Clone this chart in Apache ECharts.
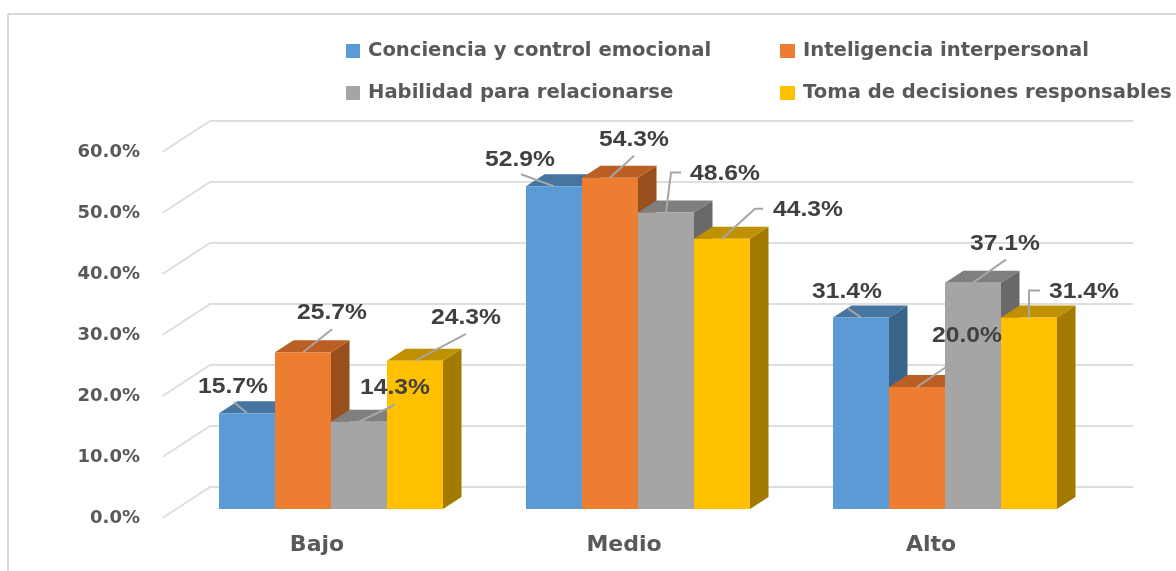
<!DOCTYPE html>
<html>
<head>
<meta charset="utf-8">
<title>Niveles</title>
<style>
html,body{margin:0;padding:0;background:#fff;}
#main{width:1176px;height:571px;}
</style>
<script src="https://cdn.jsdelivr.net/npm/echarts@6/dist/echarts.min.js"></script>
</head>
<body>
<div id="main"></div>
<script>
var categorias = ['Bajo', 'Medio', 'Alto'];
var conciencia = [15.7, 52.9, 31.4];
var inteligencia = [25.7, 54.3, 20.0];
var habilidad = [14.3, 48.6, 37.1];
var decisiones = [24.3, 44.3, 31.4];
var marcas = [0, 10, 20, 30, 40, 50, 60];

var nombres = ['Conciencia y control emocional', 'Inteligencia interpersonal', 'Habilidad para relacionarse', 'Toma de decisiones responsables'];
var valores = [conciencia, inteligencia, habilidad, decisiones];

// colores: frente, tapa, lado
var colores = [
    ['#5B9BD5', '#4575A0', '#3A6389'],
    ['#ED7D31', '#BB5F24', '#97501E'],
    ['#A5A5A5', '#7F7F7F', '#696969'],
    ['#FFC000', '#BF9000', '#A37A00']
];

// desplazamiento de cada etiqueta respecto a su barra: [dx texto, dy texto, linea guia...]
var guias = [
    [[-14, -26, [[-13, -11]]], [29, -39, [[29, -23]]], [36, -34, [[36, -17]]], [51, -43, [[51, -27]]]],
    [[-34, -26, [[-33, -12]]], [24, -38, [[24, -22]]], [59, -39, [[5, -40], [15, -40]]], [86, -29, [[33, -30], [41, -30]]]],
    [[-14, -26, [[-13, -9]]], [50, -51, [[29, -20]]], [32, -39, [[33, -23]]], [55, -26, [[0, -27], [11, -27]]]]
];

var fondoX = 18.5, fondoY = 12;   // profundidad de las barras
var anchoBarra = 56 / 307;

function dibujaBarra(s) {
    return function (params, api) {
        var c = api.value(0);
        var base = api.coord([c, 0]);
        var tope = api.coord([c, api.value(1)]);
        var w = api.size([1, 0])[0] * anchoBarra;
        var x0 = base[0] + (s - 2) * w;
        var x1 = x0 + w;
        var y0 = base[1], y1 = tope[1];
        return {
            type: 'group',
            children: [
                {type: 'polygon', shape: {points: [[x1, y0], [x1 + fondoX, y0 - fondoY], [x1 + fondoX, y1 - fondoY], [x1, y1]]}, style: {fill: colores[s][2]}},
                {type: 'polygon', shape: {points: [[x0, y1], [x0 + fondoX, y1 - fondoY], [x1 + fondoX, y1 - fondoY], [x1, y1]]}, style: {fill: colores[s][1]}},
                {type: 'rect', shape: {x: x0, y: y1, width: w, height: y0 - y1}, style: {fill: colores[s][0]}}
            ]
        };
    };
}

function dibujaMarca(params, api) {
    var p = api.coord([0, api.value(1)]);
    var g = params.coordSys;
    var yFrente = p[1] + 9, yFondo = p[1] - 22;
    return {
        type: 'polyline',
        shape: {points: [[g.x - 15, yFrente], [g.x + 32.5, yFondo], [g.x + g.width + 34.5, yFondo]]},
        style: {fill: null, stroke: '#DEDEDE', lineWidth: 2}
    };
}

function dibujaEtiqueta(params, api) {
    var c = api.value(0), s = api.value(2), v = api.value(1);
    var base = api.coord([c, v]);
    var w = api.size([1, 0])[0] * anchoBarra;
    var ax = base[0] + (s - 1.5) * w, ay = base[1];
    var g = guias[c][s];
    var puntos = [[ax, ay]];
    g[2].forEach(function (q) {
        puntos.push([ax + q[0], ay + q[1]]);
    });
    return {
        type: 'group',
        children: [
            {type: 'polyline', shape: {points: puntos}, style: {fill: null, stroke: '#A6A6A6', lineWidth: 2}},
            {
                type: 'text', x: ax + g[0], y: ay + g[1], scaleX: 1.12,
                style: {
                    text: v.toFixed(1) + '%', fill: '#404040',
                    font: 'bold 22px "Liberation Sans"', align: 'center', verticalAlign: 'middle'
                }
            }
        ]
    };
}

var series = [{
    type: 'custom', name: 'marcas', silent: true, z: 1,
    renderItem: dibujaMarca,
    data: marcas.map(function (m) { return [0, m]; })
}];
nombres.forEach(function (n, s) {
    series.push({
        type: 'custom', name: n, z: 2,
        itemStyle: {color: colores[s][0]},
        renderItem: dibujaBarra(s),
        data: valores[s].map(function (v, c) { return [c, v]; })
    });
});
var todas = [];
valores.forEach(function (lista, s) {
    lista.forEach(function (v, c) { todas.push([c, v, s]); });
});
series.push({
    type: 'custom', name: 'etiquetas', silent: true, z: 5,
    renderItem: dibujaEtiqueta,
    data: todas
});

var textoLeyenda = {color: '#595959', fontFamily: 'DejaVu Sans', fontWeight: 'bold', fontSize: 19.6, padding: [0, 0, 0, 3]};

var myChart = echarts.init(document.getElementById('main'));
var option = {
    backgroundColor: '#fff',
    animation: false,
    grid: {left: 177.5, right: 77.5, top: 143, bottom: 62},
    legend: [
        {
            left: 341, top: 36, orient: 'vertical', itemWidth: 14, itemHeight: 14, itemGap: 22,
            icon: 'rect', data: [nombres[0], nombres[2]], textStyle: textoLeyenda, selectedMode: false
        },
        {
            left: 775, top: 36, orient: 'vertical', itemWidth: 15, itemHeight: 14, itemGap: 22,
            icon: 'rect', data: [nombres[1], nombres[3]], textStyle: textoLeyenda, selectedMode: false
        }
    ],
    xAxis: {
        type: 'category',
        data: categorias,
        axisLine: {show: false},
        axisTick: {show: false},
        axisLabel: {
            color: '#595959', fontFamily: 'DejaVu Sans', fontWeight: 'bold', fontSize: 22,
            margin: 25, padding: [0, 28, 0, 0]
        }
    },
    yAxis: {
        type: 'value',
        min: 0, max: 60, interval: 10,
        axisLine: {show: false},
        axisTick: {show: false},
        splitLine: {show: false},
        axisLabel: {
            color: '#595959', fontFamily: 'DejaVu Sans', fontWeight: 'bold', fontSize: 18,
            margin: 37.5, verticalAlign: 'top', lineHeight: 18,
            formatter: function (v) { return v.toFixed(1) + '%'; }
        }
    },
    graphic: [
        {type: 'line', silent: true, shape: {x1: 8, y1: 14, x2: 1176, y2: 14}, style: {stroke: '#D9D9D9', lineWidth: 2}},
        {type: 'line', silent: true, shape: {x1: 8, y1: 14, x2: 8, y2: 571}, style: {stroke: '#D9D9D9', lineWidth: 2}}
    ],
    series: series
};
myChart.setOption(option);
</script>
</body>
</html>
